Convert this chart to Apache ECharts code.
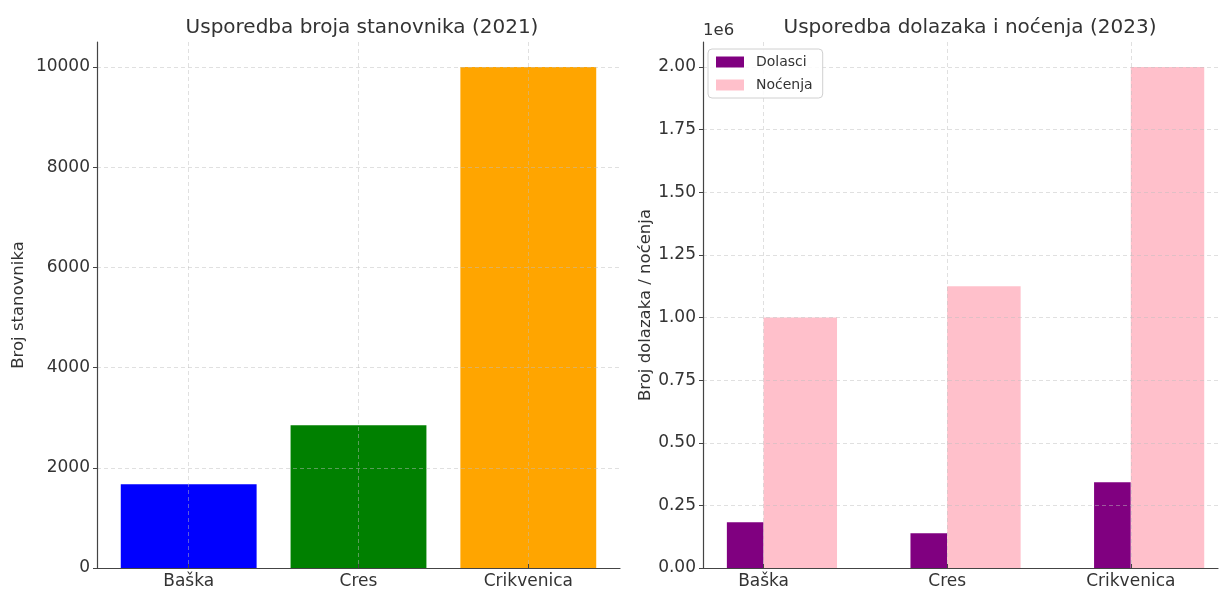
<!DOCTYPE html>
<html>
<head>
<meta charset="utf-8">
<script src="https://cdn.jsdelivr.net/npm/echarts@6/dist/echarts.min.js"></script>
<style>
  html, body { margin: 0; padding: 0; background: #fff; }
  #chart { width: 1219px; height: 590px; }
</style>
</head>
<body>
<div id="chart"></div>
<script>
// podaci
const gradovi = ["Baška", "Cres", "Crikvenica"];
const stanovnici = [1670, 2850, 10000];
const dolasci = [183000, 139000, 342000];
const nocenja = [1000000, 1125000, 2000000];
const tickoviStanovnici = [0, 2000, 4000, 6000, 8000, 10000];
const tickoviTurizam = [0, 250000, 500000, 750000, 1000000, 1250000, 1500000, 1750000, 2000000];
const tickoviGradovi = [0, 1, 2];

const bojeStanovnika = ["#0000ff", "#008000", "#ffa500"];
const bojaDolasci = "#800080";
const bojaNocenja = "#ffc0cb";
const tekst = "#333333";
const font = "DejaVu Sans";

// sirine stupaca u jedinicama osi (kao matplotlib)
const sirinaD = 0.2;
const sirinaN = 0.4;
const pomak = (sirinaN - sirinaD) / 2;

let myChart = echarts.init(document.getElementById("chart"), null, { renderer: "canvas" });

// mreza se crta preko stupaca (z veci od serija)
let mreza = { show: true, lineStyle: { color: "rgba(190,190,190,0.6)", type: [4, 3], width: 0.8 } };

function xOs(gridIndex, min, max) {
  return {
    type: "value",
    gridIndex: gridIndex,
    min: min,
    max: max,
    z: 3,
    axisLine: { show: true, onZero: false, lineStyle: { color: "#444", width: 1.2 } },
    axisTick: { show: true, inside: true, length: 4, customValues: tickoviGradovi, lineStyle: { color: "#444" } },
    axisLabel: {
      customValues: tickoviGradovi,
      color: tekst,
      fontSize: 17,
      fontFamily: font,
      margin: 5,
      formatter: v => gradovi[Math.round(v)] || ""
    },
    splitLine: mreza
  };
}

function yOs(gridIndex, max, ticks, fmt) {
  return {
    type: "value",
    gridIndex: gridIndex,
    min: 0,
    max: max,
    z: 3,
    axisLine: { show: true, onZero: false, lineStyle: { color: "#444", width: 1.2 } },
    axisTick: { show: true, length: 4, customValues: ticks, lineStyle: { color: "#444" } },
    axisLabel: {
      customValues: ticks,
      color: tekst,
      fontSize: 17,
      fontFamily: font,
      margin: 7,
      formatter: fmt
    },
    splitLine: mreza
  };
}

let lijevaY = yOs(0, 10500, tickoviStanovnici, v => String(v));
lijevaY.name = "Broj stanovnika";
lijevaY.nameLocation = "middle";
lijevaY.nameGap = 70;
lijevaY.nameTextStyle = { color: tekst, fontSize: 16.5, fontFamily: font };

let desnaY = yOs(1, 2100000, tickoviTurizam, v => (v / 1e6).toFixed(2));
desnaY.name = "Broj dolazaka / noćenja";
desnaY.nameLocation = "middle";
desnaY.nameGap = 49;
desnaY.nameTextStyle = { color: tekst, fontSize: 16.5, fontFamily: font };

let option = {
  backgroundColor: "#ffffff",
  animation: false,
  title: [
    {
      text: "Usporedba broja stanovnika (2021)",
      left: 357,
      top: 13,
      textAlign: "center",
      textStyle: { color: tekst, fontSize: 20, fontWeight: "normal", fontFamily: font }
    },
    {
      text: "Usporedba dolazaka i noćenja (2023)",
      left: 965,
      top: 13,
      textAlign: "center",
      textStyle: { color: tekst, fontSize: 20, fontWeight: "normal", fontFamily: font }
    },
    {
      text: "1e6",
      left: 703,
      top: 22,
      padding: 0,
      textStyle: { color: tekst, fontSize: 16.5, fontWeight: "normal", fontFamily: font }
    }
  ],
  legend: {
    data: ["Dolasci", "Noćenja"],
    orient: "vertical",
    left: 708,
    top: 49,
    z: 5,
    icon: "rect",
    itemWidth: 28,
    itemHeight: 11,
    itemGap: 9,
    padding: [6, 10, 6, 8],
    borderColor: "#d0d0d0",
    borderWidth: 1,
    borderRadius: 4,
    backgroundColor: "rgba(255,255,255,0.85)",
    textStyle: { color: tekst, fontSize: 14, fontFamily: font, padding: [0, 0, 0, 7] }
  },
  grid: [
    { left: 97, right: 599, top: 42, bottom: 20 },
    { left: 703, right: 1, top: 42, bottom: 20 }
  ],
  xAxis: [xOs(0, -0.54, 2.54), xOs(1, -0.33, 2.475)],
  yAxis: [lijevaY, desnaY],
  series: [
    {
      name: "Stanovnici",
      type: "bar",
      xAxisIndex: 0,
      yAxisIndex: 0,
      barWidth: "80%",
      data: stanovnici.map((v, i) => ({ value: [i, v], itemStyle: { color: bojeStanovnika[i] } }))
    },
    {
      name: "Dolasci",
      type: "bar",
      xAxisIndex: 1,
      yAxisIndex: 1,
      barWidth: sirinaD * 100 + "%",
      barGap: 0,
      itemStyle: { color: bojaDolasci },
      data: dolasci.map((v, i) => [i + pomak, v])
    },
    {
      name: "Noćenja",
      type: "bar",
      xAxisIndex: 1,
      yAxisIndex: 1,
      barWidth: sirinaN * 100 + "%",
      barGap: 0,
      itemStyle: { color: bojaNocenja },
      data: nocenja.map((v, i) => [i + pomak, v])
    }
  ]
};

myChart.setOption(option, true);
window.addEventListener("resize", () => {
  myChart.resize();
});
</script>
</body>
</html>
